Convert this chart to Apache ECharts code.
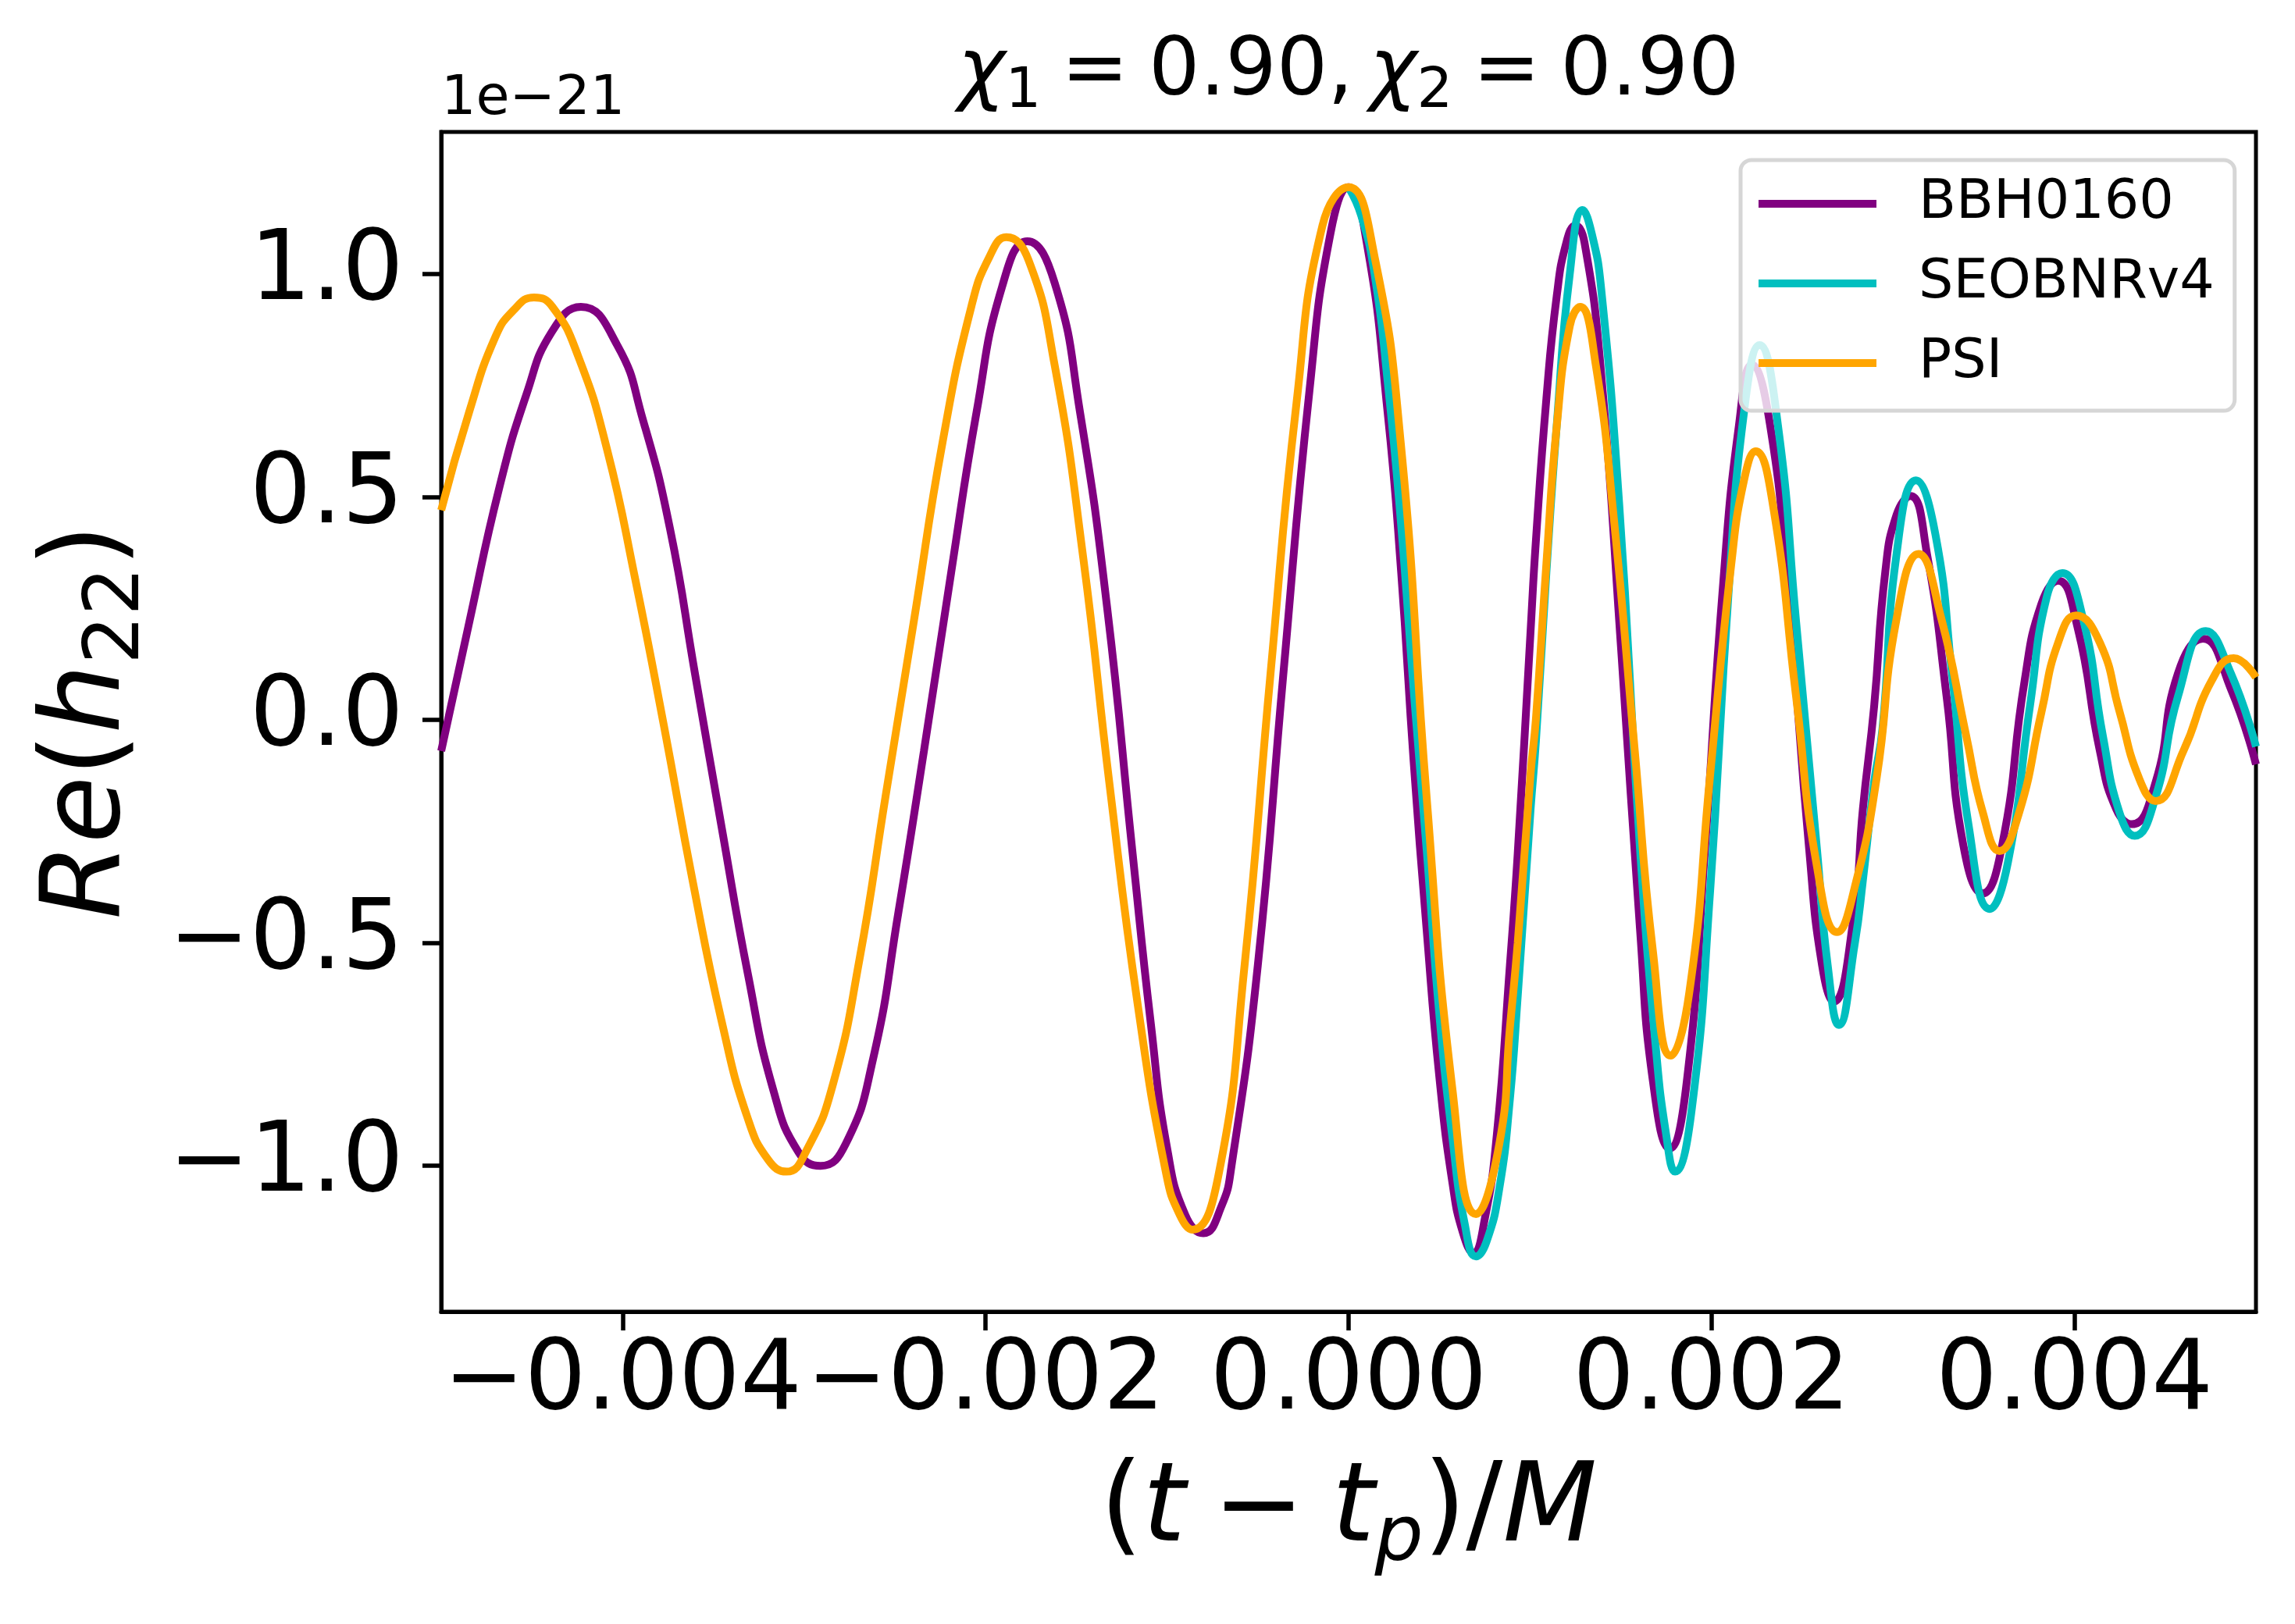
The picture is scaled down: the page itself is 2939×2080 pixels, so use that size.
<!DOCTYPE html>
<html>
<head>
<meta charset="utf-8">
<script src="https://cdn.jsdelivr.net/npm/echarts@6/dist/echarts.min.js"></script>
<style>
  html, body { margin: 0; padding: 0; background: #fff; }
  #chart { width: 2939px; height: 2080px; }
</style>
</head>
<body>
<div id="chart"></div>
<script>
// time axis in units of 1e-3, strain in units of 1e-21
var xTicks = [-4, -2, 0, 2, 4]
var xTickLabels = ['\u22120.004', '\u22120.002', '0.000', '0.002', '0.004']
var yTicks = [-1.0, -0.5, 0.0, 0.5, 1.0]
var yTickLabels = ['\u22121.0', '\u22120.5', '0.0', '0.5', '1.0']

var seriesNames = ['BBH0160', 'SEOBNRv4', 'PSI']
var seriesColors = ['#800080', '#00bfbf', '#ffa500']

var bbhT = [-5.00, -4.85, -4.68, -4.53, -4.39, -4.23, -4.03, -3.89, -3.74, -3.60,
  -3.455, -3.31, -3.17, -3.03, -2.91, -2.77, -2.62, -2.48, -2.34, -2.19,
  -2.05, -1.91, -1.77, -1.62, -1.48, -1.33, -1.19, -1.09, -1.00, -0.90,
  -0.80, -0.70, -0.645, -0.50, -0.36, -0.215, -0.10, 0.00, 0.10, 0.215,
  0.29, 0.358, 0.43, 0.50, 0.573, 0.63, 0.688, 0.75, 0.817, 0.889,
  0.932, 1.003, 1.032, 1.09, 1.147, 1.20, 1.25, 1.30, 1.391, 1.505,
  1.606, 1.677, 1.77, 1.864, 1.964, 2.065, 2.151, 2.222, 2.323, 2.423,
  2.538, 2.609, 2.674, 2.781, 2.834, 2.896, 2.957, 3.02, 3.096, 3.188,
  3.296, 3.387, 3.495, 3.602, 3.725, 3.818, 3.91, 4.017, 4.14, 4.23,
  4.317, 4.447, 4.57, 4.708, 4.862, 5.00]
var bbhH = [-0.07, 0.21, 0.52, 0.73, 0.87, 0.926, 0.84, 0.675, 0.43, 0.10,
  -0.24, -0.57, -0.83, -0.97, -1.00, -0.95, -0.76, -0.43, -0.07, 0.33,
  0.69, 0.97, 1.073, 0.98, 0.69, 0.25, -0.30, -0.68, -0.96, -1.11,
  -1.151, -1.09, -1.00, -0.55, 0.10, 0.74, 1.09, 1.194, 1.07, 0.69,
  0.33, -0.09, -0.47, -0.80, -1.04, -1.15, -1.195, -1.12, -0.93, -0.55,
  -0.30, 0.20, 0.40, 0.72, 0.95, 1.07, 1.108, 1.07, 0.78, 0.14,
  -0.47, -0.81, -0.961, -0.81, -0.29, 0.31, 0.66, 0.796, 0.66, 0.28,
  -0.29, -0.55, -0.632, -0.45, -0.20, 0.03, 0.33, 0.46, 0.502, 0.37,
  0.05, -0.28, -0.389, -0.28, 0.087, 0.26, 0.312, 0.207, -0.07, -0.20,
  -0.234, -0.14, 0.104, 0.182, 0.069, -0.10]

var seobT = [0.00, 0.07, 0.143, 0.215, 0.287, 0.36, 0.43, 0.50, 0.573, 0.64,
  0.702, 0.76, 0.831, 0.889, 0.932, 1.003, 1.032, 1.09, 1.147, 1.219,
  1.29, 1.34, 1.391, 1.491, 1.606, 1.692, 1.75, 1.799, 1.892, 1.993,
  2.093, 2.179, 2.265, 2.366, 2.466, 2.581, 2.64, 2.702, 2.79, 2.834,
  2.896, 2.942, 3.019, 3.126, 3.234, 3.326, 3.418, 3.533, 3.633, 3.756,
  3.848, 3.933, 4.048, 4.156, 4.248, 4.332, 4.447, 4.57, 4.724, 4.862,
  5.00]
var seobH = [1.194, 1.13, 1.00, 0.76, 0.45, 0.06, -0.29, -0.66, -0.94, -1.13,
  -1.203, -1.17, -1.05, -0.85, -0.62, -0.20, -0.05, 0.33, 0.66, 1.00,
  1.143, 1.09, 0.97, 0.485, -0.29, -0.73, -0.93, -1.013, -0.87, -0.38,
  0.28, 0.69, 0.84, 0.66, 0.22, -0.29, -0.55, -0.684, -0.50, -0.36,
  -0.14, -0.02, 0.37, 0.537, 0.415, 0.10, -0.24, -0.424, -0.32, 0.035,
  0.277, 0.329, 0.225, -0.035, -0.208, -0.26, -0.173, 0.052, 0.199, 0.104,
  -0.06]

var psiT = [-5.00, -4.846, -4.703, -4.602, -4.488, -4.387, -4.244, -4.086, -3.929, -3.771,
  -3.613, -3.455, -3.312, -3.197, -3.097, -2.98, -2.839, -2.695, -2.552, -2.394,
  -2.237, -2.079, -1.978, -1.886, -1.763, -1.62, -1.462, -1.319, -1.161, -1.004,
  -0.93, -0.86, -0.717, -0.574, -0.43, -0.287, -0.144, 0.00, 0.143, 0.287,
  0.43, 0.573, 0.702, 0.831, 0.889, 0.932, 1.003, 1.032, 1.09, 1.147,
  1.219, 1.276, 1.362, 1.462, 1.577, 1.677, 1.775, 1.878, 1.993, 2.108,
  2.179, 2.243, 2.337, 2.466, 2.581, 2.692, 2.796, 2.91, 3.019, 3.141,
  3.265, 3.403, 3.495, 3.587, 3.695, 3.818, 3.91, 4.009, 4.14, 4.248,
  4.355, 4.447, 4.601, 4.755, 4.877, 5.00]
var psiH = [0.47, 0.69, 0.857, 0.918, 0.947, 0.926, 0.814, 0.606, 0.312, -0.017,
  -0.364, -0.675, -0.892, -0.987, -1.013, -0.96, -0.814, -0.537, -0.173, 0.225,
  0.623, 0.926, 1.039, 1.082, 1.03, 0.796, 0.363, -0.139, -0.641, -1.02,
  -1.11, -1.143, -1.021, -0.554, 0.104, 0.71, 1.108, 1.194, 1.039, 0.623,
  -0.173, -0.831, -1.108, -0.95, -0.69, -0.50, -0.12, 0.0, 0.35, 0.658,
  0.883, 0.926, 0.796, 0.45, -0.069, -0.519, -0.753, -0.61, -0.121, 0.346,
  0.537, 0.602, 0.485, 0.052, -0.329, -0.476, -0.364, -0.13, 0.225, 0.372,
  0.229, -0.035, -0.208, -0.294, -0.208, 0.017, 0.173, 0.234, 0.173, 0.019,
  -0.13, -0.182, -0.069, 0.087, 0.138, 0.095]

function pairs(t, h) {
  var out = []
  for (var i = 0; i < t.length; i++) {
    out.push([t[i], h[i]])
  }
  return out
}

var font = 'DejaVu Sans'
var chart = echarts.init(document.getElementById('chart'), null, { renderer: 'canvas' })

var seriesData = [pairs(bbhT, bbhH), pairs(seobT, seobH), pairs(psiT, psiH)]
var series = []
for (var i = 0; i < seriesNames.length; i++) {
  series.push({
    name: seriesNames[i],
    type: 'line',
    data: seriesData[i],
    color: seriesColors[i],
    showSymbol: false,
    symbol: 'none',
    smooth: 0.5,
    lineStyle: { width: 10, color: seriesColors[i] },
    animation: false
  })
}

var mathRich = {
  n: { fontFamily: font, fontSize: 140, lineHeight: 170, fontWeight: 'normal', color: '#000' },
  i: { fontFamily: font, fontSize: 140, lineHeight: 170, fontWeight: 'normal', fontStyle: 'italic', color: '#000' },
  s: { fontFamily: font, fontSize: 98, lineHeight: 96, verticalAlign: 'bottom', fontWeight: 'normal', color: '#000' },
  si: { fontFamily: font, fontSize: 98, lineHeight: 96, verticalAlign: 'bottom', fontWeight: 'normal', fontStyle: 'italic', color: '#000' }
}

var axisBlack = { show: true, onZero: false, lineStyle: { color: '#000', width: 5 } }

chart.setOption({
  animation: false,
  backgroundColor: '#fff',
  title: {
    text: '{i|\u03c7}{s|1}{n|\u2005=\u20050.90,\u2009}{i|\u03c7}{s|2}{n|\u2005=\u20050.90}',
    left: 1727,
    top: 34,
    textAlign: 'center',
    padding: 0,
    textStyle: {
      fontWeight: 'normal',
      rich: {
        n: { fontFamily: font, fontSize: 103, lineHeight: 120, fontWeight: 'normal', color: '#000' },
        i: { fontFamily: font, fontSize: 103, lineHeight: 120, fontWeight: 'normal', fontStyle: 'italic', color: '#000' },
        s: { fontFamily: font, fontSize: 72, lineHeight: 68, verticalAlign: 'bottom', fontWeight: 'normal', color: '#000' }
      }
    }
  },
  legend: {
    data: seriesNames,
    orient: 'vertical',
    left: 2229,
    top: 205,
    padding: [21, 26, 26, 23],
    itemWidth: 151,
    itemHeight: 10,
    itemGap: 32,
    icon: 'rect',
    backgroundColor: 'rgba(255,255,255,0.8)',
    borderColor: '#d6d6d6',
    borderWidth: 5,
    borderRadius: 14,
    textStyle: { fontFamily: font, fontSize: 70, lineHeight: 70, color: '#000', padding: [0, 0, 0, 49] }
  },
  grid: {
    left: 565,
    top: 169,
    width: 2324,
    height: 1511,
    show: true,
    borderColor: '#000',
    borderWidth: 5,
    backgroundColor: 'transparent'
  },
  xAxis: {
    type: 'value',
    min: -5,
    max: 5,
    splitLine: { show: false },
    axisLine: axisBlack,
    axisTick: {
      show: true,
      inside: false,
      customValues: xTicks,
      length: 24,
      lineStyle: { color: '#000', width: 5.5 }
    },
    axisLabel: {
      customValues: xTicks,
      fontFamily: font,
      fontSize: 124,
      color: '#000',
      margin: 30,
      formatter: function (v) {
        var k = xTicks.indexOf(v)
        return k >= 0 ? xTickLabels[k] : ''
      }
    },
    name: '{n|(}{i|t}{n|\u2005\u2212\u2005}{i|t}{si|p}{n|)/}{i|M}',
    nameLocation: 'middle',
    nameGap: 172,
    nameTextStyle: { rich: mathRich }
  },
  yAxis: {
    type: 'value',
    min: -1.327,
    max: 1.318,
    splitLine: { show: false },
    axisLine: axisBlack,
    axisTick: {
      show: true,
      inside: false,
      customValues: yTicks,
      length: 24,
      lineStyle: { color: '#000', width: 5.5 }
    },
    axisLabel: {
      customValues: yTicks,
      fontFamily: font,
      fontSize: 124,
      color: '#000',
      margin: 48,
      formatter: function (v) {
        for (var k = 0; k < yTicks.length; k++) {
          if (Math.abs(yTicks[k] - v) < 1e-9) return yTickLabels[k]
        }
        return ''
      }
    },
    name: '{i|Re}{n|(}{i|h}{s|22}{n|)}',
    nameLocation: 'middle',
    nameRotate: 90,
    nameGap: 364,
    nameTextStyle: { rich: mathRich }
  },
  graphic: [{
    type: 'text',
    left: 565,
    top: 93,
    style: { text: '1e\u221221', fontFamily: font, fontSize: 70, fill: '#000' }
  }],
  series: series
})
</script>
</body>
</html>
